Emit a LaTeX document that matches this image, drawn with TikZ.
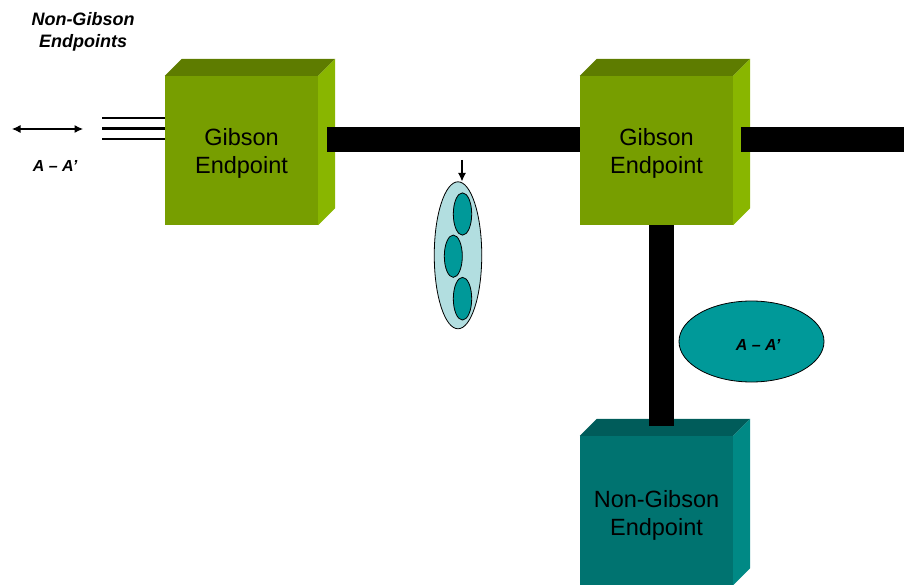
\documentclass[tikz,border=0pt]{standalone}
\usepackage{fontspec}
\setmainfont{Liberation Sans}
\usetikzlibrary{arrows.meta,shapes.geometric}

\definecolor{gfront}{RGB}{119,158,0}
\definecolor{gtop}{RGB}{94,124,0}
\definecolor{gside}{RGB}{137,182,0}
\definecolor{tfront}{RGB}{0,115,112}
\definecolor{ttop}{RGB}{0,92,90}
\definecolor{tside}{RGB}{0,137,133}
\definecolor{aafill}{RGB}{0,153,153}
\definecolor{pillfill}{RGB}{178,222,224}

\tikzset{
  face/.style={minimum width=153pt, minimum height=149pt, inner sep=0pt},
  facetext/.style={align=center, inner sep=0pt, font=\fontsize{23.5}{28}\selectfont},
  bar/.style={line width=25pt},
  trunk/.style={line width=2.6pt},
  label/.style={align=center, font=\bfseries\itshape\fontsize{18}{22}\selectfont},
  small/.style={font=\bfseries\itshape\fontsize{16}{18}\selectfont},
  bead/.style={draw, ellipse, fill=aafill, line width=0.8pt, inner sep=0pt},
  tip/.style={line width=1.1pt},
  head/.tip={Latex[length=8.5pt,width=8pt]},
}

% depth faces of a cube drawn behind a front-face node
\newcommand\cubesides[3]{%
  \fill[#2] (#1.north west) -- ++(17,-17) -- ([shift={(17,-17)}]#1.north east)
    -- (#1.north east) -- cycle;
  \fill[#3] (#1.north east) -- ++(17,-17) -- ([shift={(17,-17)}]#1.south east)
    -- (#1.south east) -- cycle;
}

\begin{document}
\begin{tikzpicture}[x=1pt, y=-1pt]
\useasboundingbox (0,0) rectangle (904,585);
\clip (0,0) rectangle (904,585);

% cubes
\node[face, fill=gfront] (g1) at (241.5,150.5) {};
\cubesides{g1}{gtop}{gside}
\node[face, fill=gfront] (g2) at (656.5,150.5) {};
\cubesides{g2}{gtop}{gside}
\node[face, fill=tfront] (n1) at (656.5,510.5) {};
\cubesides{n1}{ttop}{tside}
\node[facetext] (g1t) at ([yshift=-3pt]g1.center) {Gibson\\Endpoint};
\node[facetext] (g2t) at ([yshift=-3pt]g2.center) {Gibson\\Endpoint};
\node[facetext] (n1t) at ([yshift=-4.5pt]n1.center) {Non-Gibson\\Endpoint};

% thick links
\coordinate (h) at (0,139.5);
\coordinate (v) at (661,0);
\coordinate (edge) at (904,139.5);
\draw[bar] ([xshift=9pt]g1.east |- h) -- (g2.west |- h);
\draw[bar] ([xshift=8pt]g2.east |- h) -- (edge);
\draw[bar] (g2.south -| v) -- ([yshift=10pt]n1.north -| v);

% three access lines into the first cube
\coordinate (l1) at (102,118);
\coordinate (l2) at (102,128.5);
\coordinate (l3) at (102,139);
\draw[trunk] (l1) -- (l1 -| g1.west);
\draw[trunk] (l2) -- (l2 -| g1.west);
\draw[trunk] (l3) -- (l3 -| g1.west);

% left-hand labels and double arrow
\node[label] (ngtitle) at (83,31.5) {Non-Gibson\\Endpoints};
\coordinate (al) at (12,129);
\coordinate (ar) at (83,129);
\draw[tip, head-head] (al) -- (ar);
\node[small] (aleft) at (55,166) {A – A’};

% bundle of beads on the link
\node[draw, ellipse, fill=pillfill, line width=0.8pt, inner sep=0pt,
      minimum width=47.5pt, minimum height=147pt] (pill) at (458,255.3) {};
\node[bead, minimum width=18.4pt, minimum height=42.3pt] (b1) at (462.5,214) {};
\node[bead, minimum width=18pt, minimum height=42.3pt] (b2) at (453.3,256.2) {};
\node[bead, minimum width=18.4pt, minimum height=42.7pt] (b3) at (462.5,298.7) {};
\coordinate (drop) at (462,160);
\draw[tip, -head] (drop) -- (drop |- pill.north);

% A - A' ellipse
\node[draw, ellipse, fill=aafill, line width=0.8pt, inner sep=0pt,
      minimum width=145pt, minimum height=81pt] (aa) at (751.5,341.5) {};
\node[small] (aatext) at (758,345) {A – A’};
\end{tikzpicture}
\end{document}
